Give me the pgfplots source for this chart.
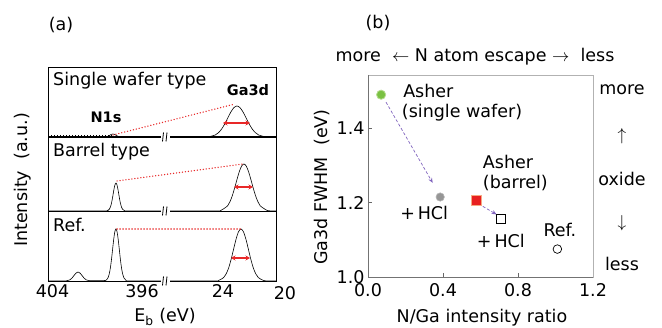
\documentclass[border=0pt]{standalone}
\usepackage{pgfplots}
\pgfplotsset{compat=1.18}
\usepackage{fontspec}
\setmainfont{DejaVu Sans}
\usetikzlibrary{arrows.meta}
\definecolor{dred}{RGB}{232,40,40}
\definecolor{pgreen}{RGB}{122,193,66}
\definecolor{lgreen}{RGB}{181,220,142}
\definecolor{pgray}{RGB}{150,150,150}
\definecolor{pred}{RGB}{232,32,32}
\definecolor{lorange}{RGB}{245,170,130}
\definecolor{ppurple}{RGB}{128,100,190}
\newcommand\fs{\fontsize{17.5pt}{21pt}\selectfont}
\newcommand\fb{\fontsize{14.5pt}{17pt}\selectfont\bfseries}
\begin{document}
\begin{tikzpicture}
\path[use as bounding box] (0pt,0pt) rectangle (662pt,328pt);
% ---------------- panel (a) ----------------
\begin{axis}[at={(48pt,47pt)}, anchor=south west, scale only axis,
  width=228pt, height=214pt, xmin=48, xmax=276, ymin=0, ymax=214,
  xtick={52.5,142,223}, xticklabels={404,396,24}, ytick=\empty,
  major tick length=0pt, clip=false,
  axis line style={black, line width=0.8pt},
  tick label style={font=\fs},
  /pgf/number format/assume math mode=true,
  spec/.style={black, line width=0.6pt, smooth, no markers}]
% dividers / baselines
\draw[line width=0.8pt] (axis cs:48,70) -- (axis cs:276,70);
\draw[line width=1.1pt] (axis cs:48,144) -- (axis cs:276,144);
\draw[line width=0.5pt, dash pattern=on 0.5pt off 2.5pt] (axis cs:48,145.5) -- (axis cs:112,145.5);
% Single wafer type (baseline 144)
\addplot[spec] table[x expr={ifthenelse(\thisrow{E}>100,52.5+(404-\thisrow{E})*11.19,223+(24-\thisrow{E})*15.5)}, y expr={\thisrow{I}+144}] {
E I
404.4 0
399.2 0
399.1 0.5
398.9 1.6
398.75 2.6
398.6 3
398.45 2.6
398.3 1.6
398.1 0.5
398.0 0
394.3 0
};
\addplot[spec] table[x expr={ifthenelse(\thisrow{E}>100,52.5+(404-\thisrow{E})*11.19,223+(24-\thisrow{E})*15.5)}, y expr={\thisrow{I}+144}] {
E I
27.48 0
25.2 0
24.9 0.3
24.5 2.0
24.3 4.2
24.1 7.7
23.9 12.7
23.7 18.8
23.5 24.8
23.3 29.3
23.1 31
22.9 29.3
22.7 24.8
22.5 18.8
22.3 12.7
22.1 7.7
21.9 4.2
21.7 2.0
21.3 0.3
21.0 0
20.58 0
};
% Barrel type (baseline 70)
\addplot[spec] table[x expr={ifthenelse(\thisrow{E}>100,52.5+(404-\thisrow{E})*11.19,223+(24-\thisrow{E})*15.5)}, y expr={\thisrow{I}+70}] {
E I
404.4 0
399.5 0
399.13 0.2
398.93 1.6
398.83 3.8
398.73 7.8
398.63 13.6
398.53 20.3
398.43 25.8
398.33 28
398.23 25.8
398.13 20.3
398.03 13.6
397.93 7.8
397.83 3.8
397.73 1.6
397.53 0.2
397.2 0
394.3 0
};
\addplot[spec] table[x expr={ifthenelse(\thisrow{E}>100,52.5+(404-\thisrow{E})*11.19,223+(24-\thisrow{E})*15.5)}, y expr={\thisrow{I}+70}] {
E I
27.48 0
24.5 0
24.15 0.5
23.7 5.2
23.55 9.3
23.4 15.3
23.25 22.9
23.1 31.4
22.95 39.3
22.8 44.9
22.65 47
22.5 44.9
22.35 39.3
22.2 31.4
22.05 22.9
21.9 15.3
21.75 9.3
21.6 5.2
21.15 0.5
20.9 0
20.58 0
};
% Ref. (baseline 0)
\addplot[spec] table[x expr={ifthenelse(\thisrow{E}>100,52.5+(404-\thisrow{E})*11.19,223+(24-\thisrow{E})*15.5)}, y expr={\thisrow{I}}] {
E I
404.4 0
403.2 0
402.8 0.1
402.44 1.2
402.26 2.9
402.08 5.5
401.9 7.9
401.72 9
401.54 7.9
401.36 5.5
401.18 2.9
401.0 1.2
400.64 0.3
400.0 0.3
399.5 0.3
399.23 0.6
399.03 3.4
398.93 7.0
398.83 12.9
398.73 21.4
398.63 31.6
398.53 41.7
398.43 49.2
398.33 52
398.23 49.2
398.13 41.7
398.03 31.6
397.93 21.4
397.83 12.9
397.73 7.0
397.63 3.4
397.43 0.6
397.1 0
394.3 0
};
\addplot[spec] table[x expr={ifthenelse(\thisrow{E}>100,52.5+(404-\thisrow{E})*11.19,223+(24-\thisrow{E})*15.5)}, y expr={\thisrow{I}}] {
E I
27.48 0
24.6 0
24.28 0.6
23.96 3.4
23.8 7.0
23.64 12.9
23.48 21.4
23.32 31.6
23.16 41.7
23.0 49.2
22.84 52
22.68 49.2
22.52 41.7
22.36 31.6
22.2 21.4
22.04 12.9
21.88 7.0
21.72 3.4
21.4 0.6
21.1 0
20.58 0
};
% red dotted guide lines
\draw[dred, line width=1.4pt, line cap=round, dash pattern=on 0.1pt off 2.9pt] (axis cs:113,146) -- (axis cs:235,177);
\draw[dred, line width=1.4pt, line cap=round, dash pattern=on 0.1pt off 2.9pt] (axis cs:117,100) -- (axis cs:243,117);
\draw[dred, line width=1.4pt, line cap=round, dash pattern=on 0.1pt off 2.9pt] (axis cs:117,52) -- (axis cs:242,52);
% red FWHM arrows
\draw[dred, line width=1.6pt, {Stealth[length=4.5pt,width=5pt]}-{Stealth[length=4.5pt,width=5pt]}] (axis cs:223,158) -- (axis cs:250,158);
\draw[dred, line width=1.6pt, {Stealth[length=4.5pt,width=5pt]}-{Stealth[length=4.5pt,width=5pt]}] (axis cs:234,94) -- (axis cs:253,94);
\draw[dred, line width=1.6pt, {Stealth[length=4.5pt,width=5pt]}-{Stealth[length=4.5pt,width=5pt]}] (axis cs:231,23) -- (axis cs:250,23);
% break marks
\fill[white] (axis cs:160.5,-6) rectangle (axis cs:169.5,6);
\fill[white] (axis cs:160.5,64) rectangle (axis cs:169.5,76);
\fill[white] (axis cs:160.5,138) rectangle (axis cs:169.5,150);
\draw[line width=0.8pt] (axis cs:162.5,-4.5) .. controls (axis cs:161.3,-1) and (axis cs:164.7,1) .. (axis cs:163.5,4.5);
\draw[line width=0.8pt] (axis cs:166,-4.5) .. controls (axis cs:164.8,-1) and (axis cs:168.2,1) .. (axis cs:167,4.5);
\draw[line width=0.8pt] (axis cs:162.5,65.5) .. controls (axis cs:161.3,69) and (axis cs:164.7,71) .. (axis cs:163.5,74.5);
\draw[line width=0.8pt] (axis cs:166,65.5) .. controls (axis cs:164.8,69) and (axis cs:168.2,71) .. (axis cs:167,74.5);
\draw[line width=0.8pt] (axis cs:162.5,139.5) .. controls (axis cs:161.3,143) and (axis cs:164.7,145) .. (axis cs:163.5,148.5);
\draw[line width=0.8pt] (axis cs:166,139.5) .. controls (axis cs:164.8,143) and (axis cs:168.2,145) .. (axis cs:167,148.5);
% texts
\node[anchor=west, font=\fs, inner sep=0pt] at (axis cs:53,200) {Single wafer type};
\node[font=\fb, inner sep=0pt] at (axis cs:248,191) {Ga3d};
\node[font=\fb, inner sep=0pt] at (axis cs:106,164) {N1s};
\node[anchor=west, font=\fs, inner sep=0pt] at (axis cs:53,129) {Barrel type};
\node[anchor=west, font=\fs, inner sep=0pt] at (axis cs:53,56) {Ref.};
\end{axis}
\node[font=\fs] at (285pt,35pt) {20};
\node[font=\fs] at (61pt,303pt) {(a)};
\node[font=\fs, rotate=90] at (23pt,148pt) {Intensity\ \ (a.u.)};
\node[font=\fs] at (165pt,11pt) {E\textsubscript{b} (eV)};
% ---------------- panel (b) ----------------
\begin{axis}[at={(368pt,51pt)}, anchor=south west, scale only axis,
  width=225pt, height=202pt, xmin=0, xmax=1.2, ymin=1.0, ymax=1.543,
  xtick={0,0.4,0.8,1.2}, ytick={1.0,1.2,1.4}, tick pos=left,
  tick align=inside, major tick length=4pt,
  tick style={gray!80!black, line width=0.6pt},
  axis line style={gray!60, line width=0.7pt},
  tick label style={font=\fs},
  xticklabel style={yshift=-3pt},
  /pgf/number format/.cd, fixed, fixed zerofill, precision=1, assume math mode=true,
  /pgfplots/.cd, clip=false]
\draw[gray!90!black, line width=0.7pt] (rel axis cs:0,1) -- (rel axis cs:0,0) -- (rel axis cs:1,0);
\draw[ppurple, densely dashed, line width=0.7pt, -{Stealth[length=5pt,width=4pt]}] (axis cs:0.096,1.47) -- (axis cs:0.345,1.253);
\draw[ppurple, densely dashed, line width=0.7pt, -{Stealth[length=5pt,width=4pt]}] (axis cs:0.612,1.19) -- (axis cs:0.686,1.168);
\addplot[only marks, mark=*, mark size=4.6pt, mark options={fill=pgreen, draw=lgreen, line width=0.8pt}] coordinates {(0.07,1.49)};
\addplot[only marks, mark=*, mark size=4.2pt, mark options={fill=pgray, draw=pgray!70, line width=0.6pt}] coordinates {(0.385,1.215)};
\addplot[only marks, mark=square*, mark size=5pt, mark options={fill=pred, draw=lorange, line width=1pt}] coordinates {(0.58,1.205)};
\addplot[only marks, mark=square*, mark size=4.4pt, mark options={fill=white, draw=black, line width=1.1pt}] coordinates {(0.71,1.155)};
\addplot[only marks, mark=*, mark size=4.3pt, mark options={fill=white, draw=black, line width=0.7pt}] coordinates {(1.01,1.075)};
\node[anchor=west, font=\fs, inner sep=0pt] at (axis cs:0.187,1.5) {Asher};
\node[anchor=west, font=\fs, inner sep=0pt] at (axis cs:0.18,1.441) {(single wafer)};
\node[anchor=west, font=\fs, inner sep=0pt] at (axis cs:0.612,1.309) {Asher};
\node[anchor=west, font=\fs, inner sep=0pt] at (axis cs:0.612,1.253) {(barrel)};
\node[anchor=west, font=\fs, inner sep=0pt] at (axis cs:0.171,1.172) {+\,HCl};
\node[anchor=west, font=\fs, inner sep=0pt] at (axis cs:0.58,1.097) {+\,HCl};
\node[anchor=west, font=\fs, inner sep=0pt] at (axis cs:0.935,1.126) {Ref.};
\end{axis}
\node[font=\fs] at (378pt,305pt) {(b)};
\node[font=\fs] at (475pt,271pt) {more\ \ $\leftarrow$ N atom escape $\rightarrow$\ \ less};
\node[font=\fs] at (622pt,238pt) {more};
\node[font=\fs] at (622pt,192pt) {$\uparrow$};
\node[font=\fs] at (622pt,149pt) {oxide};
\node[font=\fs] at (622pt,105pt) {$\downarrow$};
\node[font=\fs] at (622pt,64pt) {less};
\node[font=\fs, rotate=90] at (322pt,141pt) {Ga3d FWHM\ \ (eV)};
\node[font=\fs] at (482pt,10pt) {N/Ga intensity ratio};
\end{tikzpicture}
\end{document}
